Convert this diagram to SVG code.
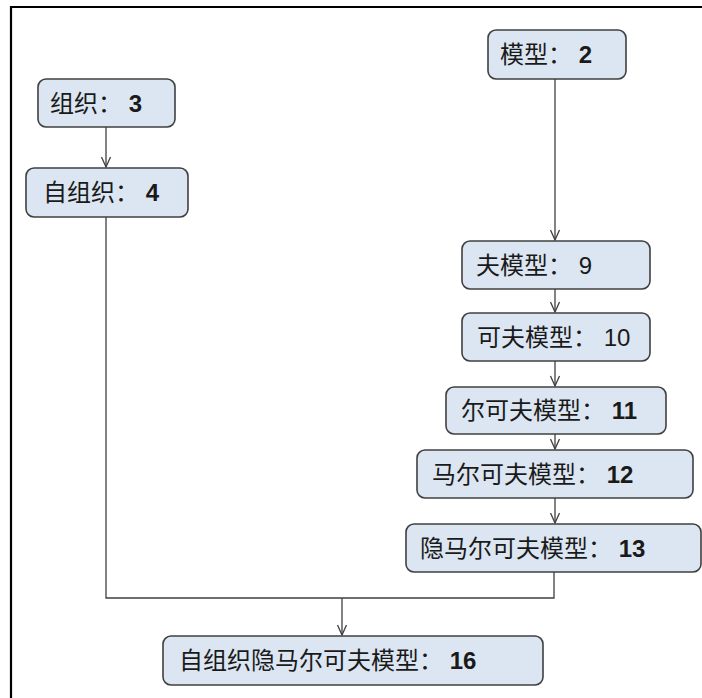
<svg xmlns="http://www.w3.org/2000/svg" width="702" height="698" viewBox="0 0 702 698">
<style>
.box{fill:#dce6f2;stroke:#404040;stroke-width:1.6}
.t{font-family:"Liberation Sans","Noto Sans CJK SC",sans-serif;font-size:24px;fill:#1a1a1a}
.n{font-family:"Liberation Sans",sans-serif;font-weight:bold}
.c{fill:none;stroke:#404040;stroke-width:1.3}
</style>
<defs>
<marker id="arr" viewBox="0 0 12 10" refX="11" refY="5" markerWidth="12" markerHeight="10" markerUnits="userSpaceOnUse" orient="auto">
<path d="M1,0.5 L11,5 L1,9.5" fill="none" stroke="#404040" stroke-width="1.3"/>
</marker>
</defs>
<rect x="0" y="0" width="702" height="698" fill="#fff"/>
<path d="M11,698 V7 H702" fill="none" stroke="#000" stroke-width="2.2"/>
<g id="connectors">
<path class="c" d="M106,127 V167" marker-end="url(#arr)"/>
<path class="c" d="M555,79 V240" marker-end="url(#arr)"/>
<path class="c" d="M555,289 V312" marker-end="url(#arr)"/>
<path class="c" d="M555,361 V386" marker-end="url(#arr)"/>
<path class="c" d="M555,434 V449" marker-end="url(#arr)"/>
<path class="c" d="M555,498 V523" marker-end="url(#arr)"/>
<path class="c" d="M106,217 V598 H554 V572"/>
<path class="c" d="M342,598 V635" marker-end="url(#arr)"/>
</g>
<g id="n3"><rect class="box" x="38" y="79" width="137" height="48" rx="8"/><text class="t" x="50" y="112">组织： <tspan class="n">3</tspan></text></g>
<g id="n4"><rect class="box" x="26" y="168" width="162" height="49" rx="8"/><text class="t" x="43" y="201">自组织： <tspan class="n">4</tspan></text></g>
<g id="n2"><rect class="box" x="488" y="30" width="138" height="49" rx="8"/><text class="t" x="500" y="63">模型： <tspan class="n">2</tspan></text></g>
<g id="n9"><rect class="box" x="462" y="241" width="188" height="48" rx="8"/><text class="t" x="476" y="274">夫模型： 9</text></g>
<g id="n10"><rect class="box" x="462" y="313" width="188" height="48" rx="8"/><text class="t" x="477" y="346">可夫模型： 10</text></g>
<g id="n11"><rect class="box" x="446" y="387" width="220" height="47" rx="8"/><text class="t" x="461" y="419">尔可夫模型： <tspan class="n">11</tspan></text></g>
<g id="n12"><rect class="box" x="417" y="450" width="276" height="48" rx="8"/><text class="t" x="432" y="483">马尔可夫模型： <tspan class="n">12</tspan></text></g>
<g id="n13"><rect class="box" x="406" y="524" width="295" height="48" rx="8"/><text class="t" x="420" y="557">隐马尔可夫模型： <tspan class="n">13</tspan></text></g>
<g id="n16"><rect class="box" x="163" y="636" width="380" height="49" rx="8"/><text class="t" x="179" y="669">自组织隐马尔可夫模型： <tspan class="n">16</tspan></text></g>
</svg>
